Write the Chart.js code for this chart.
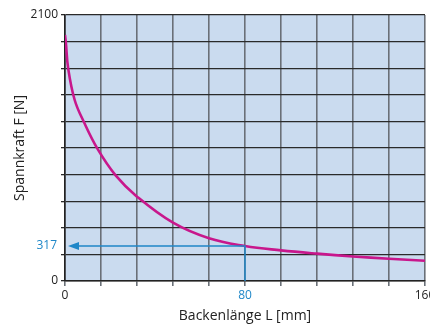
<!DOCTYPE html>
<html>
<head>
<meta charset="utf-8">
<script src="https://cdn.jsdelivr.net/npm/chart.js@4"></script>
<style>
  html, body { margin: 0; padding: 0; background: #fff; }
  #wrap { width: 430px; height: 327px; }
</style>
</head>
<body>
<div id="wrap"><canvas id="chart" width="430" height="327"></canvas></div>
<script>
// Backenlänge L [mm] vs Spannkraft F [N]
const lengthMm = [0, 0.4, 1.4, 4.3, 8.4, 14.4, 22.5, 32, 48, 64, 80, 96, 112, 128, 144, 160];
const forceN  = [1942, 1880, 1680, 1429, 1255, 1045, 834, 666, 460, 337, 276, 242, 216, 194, 176, 160];

const xMax = 160, xStep = 16;
const yMax = 2100, yStep = 210;
const xLabels = [0, 80, 160];
const yLabels = [0, 2100];

// marked reading at L = 80
const markX = 80;
const markY = 276;
const markText = "317";

const BLUE = "#1f87c8";
const FONT = "'Open Sans', 'Noto Sans', sans-serif";

/* ===== background + arrow ===== */
const plotBg = {
  id: "plotBg",
  beforeDraw(chart) {
    const a = chart.chartArea, c = chart.ctx;
    c.save();
    c.fillStyle = "#cadbef";
    c.fillRect(a.left, a.top, a.right - a.left, a.bottom - a.top);
    c.restore();
  }
};

const marker = {
  id: "marker",
  afterDatasetsDraw(chart) {
    const c = chart.ctx, a = chart.chartArea;
    const x = chart.scales.x.getPixelForValue(markX);
    const y = chart.scales.y.getPixelForValue(markY);
    const tip = a.left + 3;
    c.save();
    c.strokeStyle = BLUE;
    c.fillStyle = BLUE;
    c.lineWidth = 1.5;
    c.beginPath();
    c.moveTo(x, a.bottom);
    c.lineTo(x, y);
    c.lineTo(tip + 8, y);
    c.stroke();
    c.beginPath();
    c.moveTo(tip, y);
    c.lineTo(tip + 11, y - 4);
    c.lineTo(tip + 11, y + 4);
    c.closePath();
    c.fill();
    // label on the y axis
    c.font = "12px " + FONT;
    c.textAlign = "right";
    c.textBaseline = "middle";
    c.fillText(markText, a.left - 8, y);
    c.restore();
  }
};

new Chart(document.getElementById("chart"), {
  type: "line",
  data: {
    datasets: [{
      data: lengthMm.map((l, i) => ({ x: l, y: forceN[i] })),
      borderColor: "#c8178c",
      borderWidth: 2.6,
      pointRadius: 0,
      tension: 0.4,
      fill: false
    }]
  },
  options: {
    responsive: false,
    animation: false,
    layout: { padding: { left: 0, right: 5, top: 15, bottom: 0 } },
    plugins: { legend: { display: false }, tooltip: { enabled: false } },
    scales: {
      x: {
        type: "linear",
        min: 0, max: xMax,
        afterFit(s) { s.height = 46; s.paddingLeft = 0; s.paddingRight = 0; },
        grid: { color: "#6a7077", lineWidth: 1.6, tickLength: 5, drawOnChartArea: true },
        border: { color: "#222", width: 1.6 },
        ticks: {
          stepSize: xStep,
          autoSkip: false,
          maxRotation: 0,
          padding: 2,
          font: { family: FONT, size: 12 },
          color: ctx => ctx.tick.value === markX ? BLUE : "#222",
          callback: v => xLabels.includes(v) ? String(v) : ""
        },
        title: {
          display: true,
          text: "Backenlänge L [mm]",
          font: { family: FONT, size: 14 },
          color: "#222",
          padding: { top: 0, bottom: 3 }
        }
      },
      y: {
        type: "linear",
        min: 0, max: yMax,
        afterFit(s) { s.width = 65; },
        grid: { color: "#2a2a2a", lineWidth: 1.3, tickLength: 4 },
        border: { color: "#222", width: 1.6 },
        ticks: {
          stepSize: yStep,
          autoSkip: false,
          padding: 3,
          font: { family: FONT, size: 12 },
          color: "#222",
          callback: v => yLabels.includes(v) ? String(v) : ""
        },
        title: {
          display: true,
          text: "Spannkraft F [N]",
          font: { family: FONT, size: 14 },
          color: "#222",
          padding: { top: 12, bottom: 0 }
        }
      }
    }
  },
  plugins: [plotBg, marker]
});
</script>
</body>
</html>
